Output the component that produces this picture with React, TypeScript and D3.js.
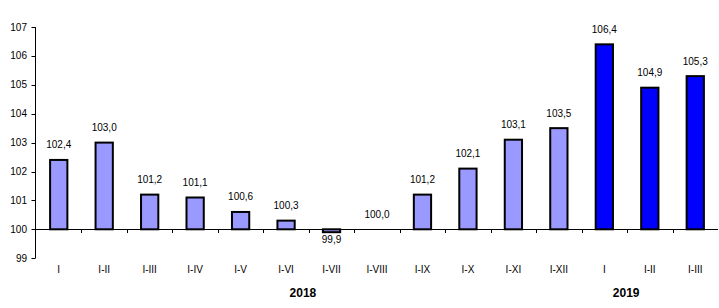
import React from "react";
import * as d3 from "d3";

const categories = ["I", "I-II", "I-III", "I-IV", "I-V", "I-VI", "I-VII", "I-VIII", "I-IX", "I-X", "I-XI", "I-XII", "I ", "I-II ", "I-III "];
const values = [102.4, 103.0, 101.2, 101.1, 100.6, 100.3, 99.9, 100.0, 101.2, 102.1, 103.1, 103.5, 106.4, 104.9, 105.3];
const yearOf = [2018, 2018, 2018, 2018, 2018, 2018, 2018, 2018, 2018, 2018, 2018, 2018, 2019, 2019, 2019];
const years = ["2018", "2019"];
const yTicks = [99, 100, 101, 102, 103, 104, 105, 106, 107];

const W = 719;
const H = 308;
const FONT = "Liberation Sans, Arial, sans-serif";

export default function App() {
  const x = d3.scaleBand<string>().domain(categories).range([36, 718]).padding(0);
  const y = d3.scaleLinear().domain([99, 107]).range([258.2, 27]);
  const bw = x.bandwidth();
  const barW = bw * 0.38;
  const base = y(100);
  const fmt = (v: number) => v.toFixed(1).replace(".", ",");
  const yearX = [36 + bw * 5.87, 36 + bw * 12.98];

  return (
    <svg width={W} height={H} style={{ position: "absolute", left: 0, top: 0, background: "#fff" }} fontFamily={FONT}>
      <rect x={0} y={0} width={W} height={H} fill="#fff" />
      {/* y axis */}
      <line x1={35.5} x2={35.5} y1={y(107)} y2={y(99)} stroke="#000" strokeWidth={1} />
      {yTicks.map((t) => (
        <g key={t}>
          <line x1={31.5} x2={35.5} y1={Math.round(y(t)) + 0.5} y2={Math.round(y(t)) + 0.5} stroke="#000" />
          <text x={27} y={y(t)} dy="0.35em" textAnchor="end" fontSize={10} fill="#000">
            {t}
          </text>
        </g>
      ))}
      {/* bars */}
      {values.map((v, i) => {
        const cx = (x(categories[i]) as number) + bw / 2;
        const top = Math.min(y(v), base);
        const h = Math.abs(y(v) - base);
        return (
          <g key={i}>
            {h > 0 && (
              <rect
                x={cx - barW / 2}
                y={top}
                width={barW}
                height={h}
                fill={yearOf[i] === 2019 ? "#0000FF" : "#9999FF"}
                stroke="#000"
                strokeWidth={2}
              />
            )}
            <text
              x={cx}
              y={v >= 100 ? y(v) - 15 : y(v) + 7}
              dy="0.35em"
              textAnchor="middle"
              fontSize={10}
              fill="#000"
            >
              {fmt(v)}
            </text>
            <text x={cx} y={269} dy="0.35em" textAnchor="middle" fontSize={10} fill="#000">
              {categories[i].trim()}
            </text>
          </g>
        );
      })}
      {/* baseline */}
      <line x1={35.5} x2={718} y1={Math.round(base) + 0.5} y2={Math.round(base) + 0.5} stroke="#000" strokeWidth={1} />
      {categories.map((c, i) =>
        i === 0 ? null : (
          <line
            key={"t" + i}
            x1={Math.round(x(c) as number) + 0.5}
            x2={Math.round(x(c) as number) + 0.5}
            y1={Math.round(base)}
            y2={Math.round(base) + 4}
            stroke="#000"
          />
        )
      )}
      {years.map((yr, i) => (
        <text key={yr} x={yearX[i]} y={293} dy="0.35em" textAnchor="middle" fontSize={12} fontWeight="bold" fill="#000">
          {yr}
        </text>
      ))}
    </svg>
  );
}
